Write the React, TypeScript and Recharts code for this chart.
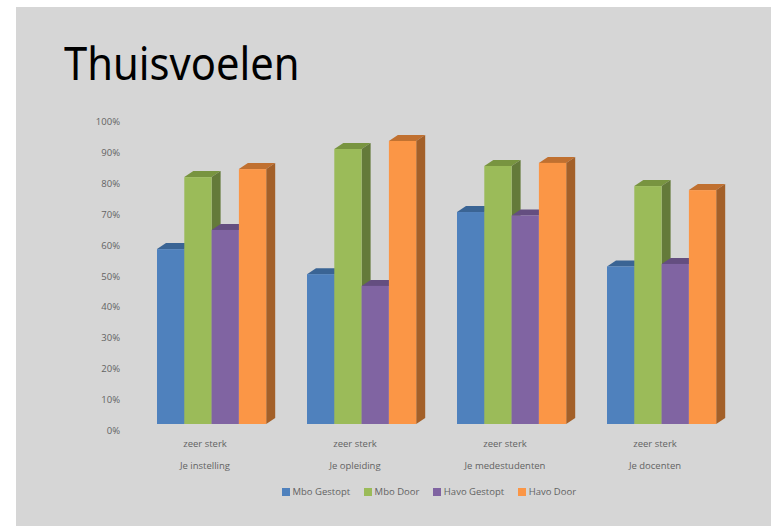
import { BarChart, Bar, XAxis, YAxis, Legend } from "recharts";

const GROUPS = ["Je instelling", "Je opleiding", "Je medestudenten", "Je docenten"];
const SUB_LABEL = "zeer sterk";
const MBO_GESTOPT = [56.6, 48.5, 68.6, 51];
const MBO_DOOR = [79.9, 89, 83.5, 77];
const HAVO_GESTOPT = [62.8, 44.7, 67.5, 51.8];
const HAVO_DOOR = [82.5, 91.6, 84.5, 75.7];
const TICKS = [0, 10, 20, 30, 40, 50, 60, 70, 80, 90, 100];

const data = GROUPS.map((group, i) => ({
  group,
  mboGestopt: MBO_GESTOPT[i],
  mboDoor: MBO_DOOR[i],
  havoGestopt: HAVO_GESTOPT[i],
  havoDoor: HAVO_DOOR[i],
}));

const FONT = "'Open Sans', 'Noto Sans', sans-serif";
const TEXT = "#636363";

// fake 3d block, front + top + right side
const block = (top: string, side: string) => (props: any) => {
  const { x, y, width, height, fill } = props;
  const dx = 9;
  const dy = 6;
  return (
    <g>
      <polygon
        points={`${x},${y} ${x + dx},${y - dy} ${x + width + dx},${y - dy} ${x + width},${y}`}
        fill={top}
      />
      <polygon
        points={`${x + width},${y} ${x + width + dx},${y - dy} ${x + width + dx},${y + height - dy} ${x + width},${y + height}`}
        fill={side}
      />
      <rect x={x} y={y} width={width} height={height} fill={fill} />
    </g>
  );
};

const YTick = ({ x, y, payload }: any) => (
  <text x={x} y={y + 10} textAnchor="end" fontSize={9.5} fontFamily={FONT} fill={TEXT}>
    {payload.value}%
  </text>
);

const XTick = ({ x, y, payload }: any) => (
  <g fontSize={9.5} fontFamily={FONT} fill={TEXT} textAnchor="middle">
    <text x={x - 7} y={y + 15}>{SUB_LABEL}</text>
    <text x={x - 7} y={y + 37}>{payload.value}</text>
  </g>
);

const LegendRow = ({ payload }: any) => (
  <div style={{ display: "flex", gap: 14, fontSize: 9.5, fontFamily: FONT, color: TEXT, lineHeight: "14px" }}>
    {(payload || []).map((item: any) => (
      <span key={item.value} style={{ display: "flex", alignItems: "center", gap: 3 }}>
        <span style={{ width: 7.5, height: 7.5, background: item.color, display: "inline-block" }} />
        {item.value}
      </span>
    ))}
  </div>
);

export default function App() {
  return (
    <div style={{ position: "relative", width: 771, height: 526, overflow: "hidden", background: "#fff" }}>
      <style>{"body{margin:0}"}</style>
      <div style={{ position: "absolute", left: 16, top: 7, width: 755, height: 519, background: "#d6d6d6" }} />
      <div
        style={{
          position: "absolute",
          left: 64,
          top: 33,
          fontFamily: "'Noto Sans', sans-serif",
          fontSize: 45,
          lineHeight: "60px",
          color: "#000",
          transform: "scaleX(0.927)",
          transformOrigin: "left center",
        }}
      >
        Thuisvoelen
      </div>
      <div style={{ position: "absolute", left: 0, top: 0 }}>
        <BarChart
          width={771}
          height={526}
          data={data}
          margin={{ top: 115, right: 34, bottom: 0, left: 87 }}
          barSize={27.3}
          barGap={0}
        >
          <XAxis dataKey="group" axisLine={false} tickLine={false} tick={<XTick />} height={102} interval={0} />
          <YAxis
            domain={[0, 100]}
            ticks={TICKS}
            axisLine={false}
            tickLine={false}
            tick={<YTick />}
            tickMargin={11}
            width={50}
          />
          <Legend
            itemSorter={null}
            content={<LegendRow />}
            wrapperStyle={{ position: "absolute", top: 485, left: 282, width: 400, height: 0 }}
          />
          <Bar dataKey="mboGestopt" name="Mbo Gestopt" fill="#4f81bd" shape={block("#3a6494", "#3a6494")} isAnimationActive={false} />
          <Bar dataKey="mboDoor" name="Mbo Door" fill="#9bbb59" shape={block("#789440", "#647a3a")} isAnimationActive={false} />
          <Bar dataKey="havoGestopt" name="Havo Gestopt" fill="#8064a2" shape={block("#644e80", "#54406c")} isAnimationActive={false} />
          <Bar dataKey="havoDoor" name="Havo Door" fill="#fb9646" shape={block("#c07030", "#a36029")} isAnimationActive={false} />
        </BarChart>
      </div>
    </div>
  );
}
